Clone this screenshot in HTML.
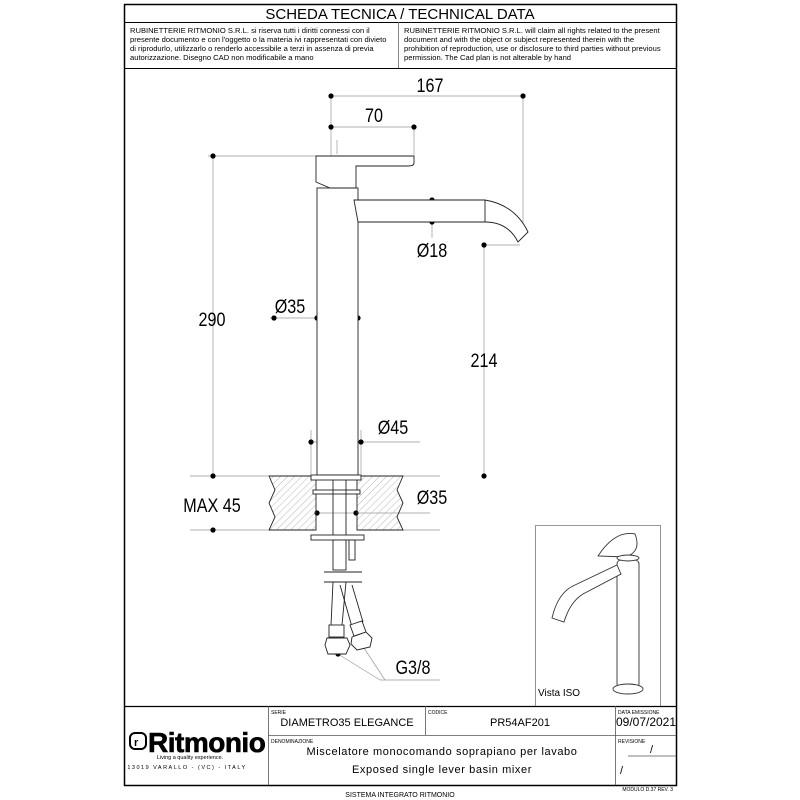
<!DOCTYPE html>
<html><head><meta charset="utf-8"><style>
body{margin:0;background:#fff;width:800px;height:800px;overflow:hidden}
svg{display:block}
text{font-family:"Liberation Sans",sans-serif;fill:#000}
.d{font-size:19px}
</style></head><body>
<svg width="800" height="800" viewBox="0 0 800 800">
<defs>
<pattern id="h" width="5" height="5" patternUnits="userSpaceOnUse" patternTransform="rotate(45)"><line x1="0" y1="0" x2="0" y2="5" stroke="#999" stroke-width="0.7"/></pattern>
</defs>
<rect x="124.5" y="4.5" width="552" height="781" fill="none" stroke="#000" stroke-width="1.5"/>
<line x1="124" y1="22.5" x2="676" y2="22.5" stroke="#000"/>
<line x1="124" y1="68.5" x2="676" y2="68.5" stroke="#000"/>
<line x1="398.5" y1="22" x2="398.5" y2="68" stroke="#666" stroke-width="0.8"/>
<text x="400" y="19" font-size="15" text-anchor="middle">SCHEDA TECNICA / TECHNICAL DATA</text>
<g font-size="7.6">
<text x="130" y="33">RUBINETTERIE RITMONIO S.R.L. si riserva tutti i diritti connessi con il</text>
<text x="130" y="42">presente documento e con l'oggetto o la materia ivi rappresentati con divieto</text>
<text x="130" y="51">di riprodurlo, utilizzarlo o renderlo accessibile a terzi in assenza di previa</text>
<text x="130" y="60">autorizzazione. Disegno CAD non modificabile a mano</text>
<text x="404" y="33">RUBINETTERIE RITMONIO S.R.L. will claim all rights related to the present</text>
<text x="404" y="42">document and with the object or subject represented therein with the</text>
<text x="404" y="51">prohibition  of reproduction, use or disclosure to third parties without previous</text>
<text x="404" y="60">permission.  The Cad plan is not alterable by hand</text>
</g>
<line x1="124" y1="706.5" x2="676" y2="706.5" stroke="#000" stroke-width="1.2"/>
<line x1="268.5" y1="706" x2="268.5" y2="785" stroke="#555" stroke-width="0.8"/>
<line x1="425.5" y1="706" x2="425.5" y2="735" stroke="#555" stroke-width="0.8"/>
<line x1="615.5" y1="706" x2="615.5" y2="785" stroke="#555" stroke-width="0.8"/>
<line x1="268" y1="735.5" x2="676" y2="735.5" stroke="#555" stroke-width="0.8"/>
<g font-size="5"><text x="271" y="714" fill="#aaa">SERIE</text><text x="428" y="714" fill="#aaa">CODICE</text><text x="618" y="714" fill="#aaa">DATA EMISSIONE</text><text x="271" y="743" fill="#aaa">DENOMINAZIONE</text><text x="618" y="743" fill="#aaa">REVISIONE</text></g>
<g font-size="11">
<text x="347" y="726" text-anchor="middle" fill="#333">DIAMETRO35  ELEGANCE</text>
<text x="520" y="726" text-anchor="middle" fill="#333">PR54AF201</text>
<text x="646" y="726" text-anchor="middle" font-size="12" fill="#333">09/07/2021</text>
<text x="442" y="755" text-anchor="middle" fill="#333" letter-spacing="0.6">Miscelatore monocomando soprapiano per lavabo</text>
<text x="442" y="773" text-anchor="middle" fill="#333" letter-spacing="0.6">Exposed single lever basin mixer</text>
<text x="650" y="753" fill="#333">/</text><text x="620" y="774" fill="#333">/</text>
</g>
<line x1="628" y1="756" x2="676" y2="756" stroke="#555" stroke-width="0.7"/>
<rect x="130" y="733" width="16" height="16" rx="5" fill="none" stroke="#000" stroke-width="2"/>
<text x="134" y="746" font-size="11" font-weight="bold">r</text>
<text x="148" y="752" font-size="28" font-weight="bold" letter-spacing="-0.5" stroke="#000" stroke-width="0.6">Ritmonio</text>
<text x="190" y="759" font-size="5.5" text-anchor="middle">Living a quality experience.</text>
<text x="187" y="769" font-size="5.5" text-anchor="middle" letter-spacing="1.5">13019 VARALLO - (VC) - ITALY</text>
<text x="400" y="797" font-size="7" text-anchor="middle">SISTEMA INTEGRATO RITMONIO</text>
<text x="673" y="791" font-size="5" text-anchor="end">MODULO D.37 REV. 3</text>

<g stroke="#999" stroke-width="0.7" fill="none">
<line x1="331" y1="96" x2="331" y2="190"/><line x1="523" y1="96" x2="523" y2="235"/>
<line x1="414" y1="127" x2="414" y2="155"/>
<line x1="331" y1="96" x2="523" y2="96"/><line x1="331" y1="127" x2="414" y2="127"/>
<line x1="208" y1="156" x2="316" y2="156"/><line x1="213" y1="156" x2="213" y2="476"/>
<line x1="190" y1="476" x2="268" y2="476"/><line x1="190" y1="530" x2="268" y2="530"/>
<line x1="403" y1="476" x2="440" y2="476"/><line x1="403" y1="530" x2="440" y2="530"/>
<line x1="432" y1="200" x2="432" y2="238"/>
<line x1="484" y1="245" x2="484" y2="476"/><line x1="484" y1="245" x2="520" y2="245"/>
<line x1="270" y1="318" x2="358" y2="318"/>
<line x1="311" y1="442" x2="420" y2="442"/><line x1="311" y1="430" x2="311" y2="474"/><line x1="361" y1="430" x2="361" y2="474"/>
<line x1="317" y1="513" x2="430" y2="513"/>
<line x1="337" y1="140" x2="337" y2="480" stroke-dasharray="14 3 2 3"/>
<line x1="360" y1="211" x2="490" y2="211" stroke-dasharray="14 3 2 3"/>
<line x1="338" y1="654" x2="380" y2="680"/><line x1="360" y1="642" x2="385" y2="680"/><line x1="380" y1="680" x2="440" y2="680"/>
</g>
<g fill="#000">
<circle cx="331" cy="96" r="2.6"/><circle cx="523" cy="96" r="2.6"/><circle cx="331" cy="127" r="2.6"/><circle cx="414" cy="127" r="2.6"/>
<circle cx="213" cy="156" r="2.6"/><circle cx="213" cy="476" r="2.6"/><circle cx="213" cy="530" r="2.6"/>
<circle cx="432" cy="200" r="2.6"/><circle cx="432" cy="222" r="2.6"/><circle cx="484" cy="245" r="2.6"/><circle cx="484" cy="476" r="2.6"/>
<circle cx="274" cy="318" r="2.6"/><circle cx="317" cy="318" r="2.6"/><circle cx="358" cy="318" r="2.6"/>
<circle cx="311" cy="442" r="2.6"/><circle cx="361" cy="442" r="2.6"/>
<circle cx="317" cy="513" r="2.6"/><circle cx="356" cy="513" r="2.6"/>
<circle cx="338" cy="654" r="2.6"/><circle cx="360" cy="642" r="2.6"/>
</g>
<g class="d">
<text transform="translate(430,92) scale(0.85,1)" text-anchor="middle">167</text>
<text transform="translate(374,122) scale(0.85,1)" text-anchor="middle">70</text>
<text transform="translate(212,326) scale(0.85,1)" text-anchor="middle">290</text>
<text transform="translate(484,367) scale(0.85,1)" text-anchor="middle">214</text>
<text transform="translate(432,257) scale(0.85,1)" text-anchor="middle">Ø18</text>
<text transform="translate(290,313) scale(0.85,1)" text-anchor="middle">Ø35</text>
<text transform="translate(393,434) scale(0.85,1)" text-anchor="middle">Ø45</text>
<text transform="translate(432,504) scale(0.85,1)" text-anchor="middle">Ø35</text>
<text transform="translate(212,512) scale(0.85,1)" text-anchor="middle">MAX 45</text>
<text transform="translate(413,674) scale(0.85,1)" text-anchor="middle">G3/8</text>
</g>
<g stroke="#222" stroke-width="0.9" fill="#fff">
<path d="M269 476 H316 V530 H269 L275 517 L269 503 L275 490 Z" fill="url(#h)"/>
<path d="M403 476 H357 V530 H403 L397 517 L403 503 L397 490 Z" fill="url(#h)"/>
<rect x="317" y="188" width="41" height="287"/>
<path d="M316 156 H414 V163 Q414 166 408 166 H356 V188 H330 L316 182 Z"/>
<path d="M354 200 H485 Q515 205 528 232 L518 242 Q508 222 485 222 H358 Z"/>
<line x1="485" y1="200" x2="485" y2="222"/>
<rect x="311" y="475" width="50" height="5"/>
<rect x="313" y="490" width="47" height="4"/>
<rect x="311" y="535" width="53" height="5"/>
<line x1="333" y1="480" x2="333" y2="535"/><line x1="346" y1="480" x2="346" y2="535"/>
<rect x="333" y="540" width="13" height="30"/>
<rect x="349" y="540" width="6" height="20"/>
<line x1="324" y1="572" x2="362" y2="572"/><line x1="324" y1="582" x2="362" y2="582"/>
<path d="M333 582 L331 625 M346 582 L342 625" fill="none"/>
<path d="M340 585 L352 627 M352 585 L363 622" fill="none"/>
<rect x="329" y="625" width="15" height="12"/>
<path d="M327 638 H347 L350 645 L346 654 H328 L325 645 Z"/>
<path d="M350 625 L362 621 L366 632 L354 636 Z"/>
<path d="M352 637 L366 632 L372 638 L370 647 L357 650 L351 644 Z"/>
</g>
<path d="M535.5 706 V525.5 H660.5 V706" fill="none" stroke="#777" stroke-width="0.8"/>
<g stroke="#333" stroke-width="0.9" fill="#fff">
<rect x="617" y="560" width="22" height="128" rx="4"/>
<ellipse cx="628" cy="689" rx="15" ry="5"/>
<path d="M552 618 Q558 592 575 585 L617 565 L621 574 L583 594 Q570 602 564 622 Z"/>
<path d="M598 556 Q615 530 635 534 Q642 552 625 557 Z"/>
<ellipse cx="628" cy="558" rx="11" ry="3"/>
</g>
<text x="538" y="696" font-size="10">Vista ISO</text>
</svg>
</body></html>
